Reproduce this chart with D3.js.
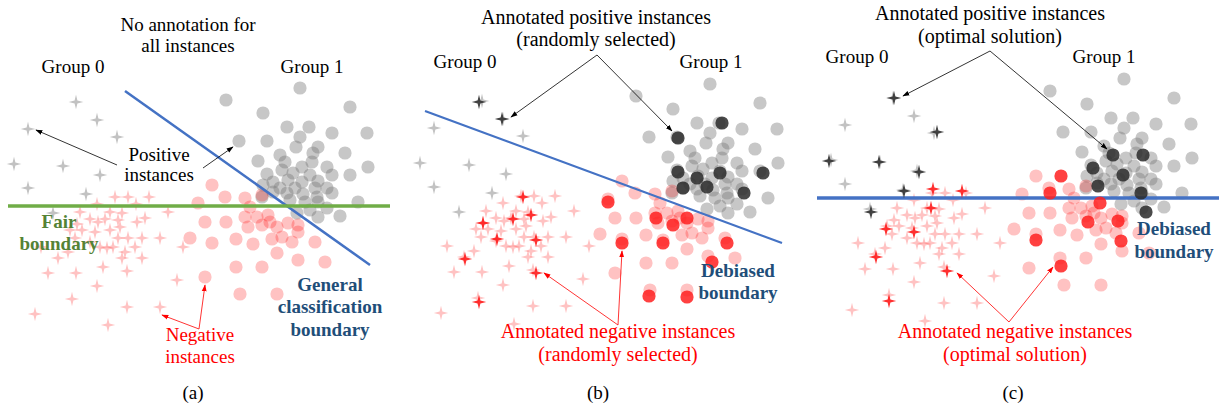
<!DOCTYPE html>
<html><head><meta charset="utf-8">
<script src="https://cdn.jsdelivr.net/npm/d3@7"></script>
<style>body{margin:0;background:#fff}svg{display:block}</style>
</head><body><svg id="c" width="1219" height="407"></svg>
<script>
// ---------- data (shared instance layout, in panel-(a) units) ----------
const group0Positive = [[76,102],[97,120],[117,137],[28,129],[14,164],[63,166],[100,175],[28,188],[86,194],[53,213]];
const group0Negative = [[115,197],[128,197],[149,197],[97,204],[136,204],[168,212],[80,212],[110,212],[122,213],[90,219],[98,222],[105,219],[118,220],[137,222],[145,218],[70,230],[82,230],[95,232],[110,230],[120,227],[118,238],[128,238],[142,238],[160,238],[75,238],[90,242],[100,247],[107,248],[113,247],[135,247],[183,247],[58,258],[68,252],[122,258],[142,258],[125,252],[103,267],[127,271],[48,273],[76,273],[177,280],[97,286],[72,299],[127,307],[160,307],[35,314],[108,325],[41,247],[77,224]];
const group1Positive = [[300,88],[226,100],[263,113],[350,107],[287,127],[309,127],[332,133],[367,133],[300,137],[239,141],[267,141],[318,147],[296,147],[345,153],[313,153],[280,155],[258,161],[285,162],[302,167],[312,162],[327,167],[368,167],[267,174],[282,170],[293,173],[310,175],[332,175],[350,175],[288,180],[273,182],[302,182],[318,181],[263,185],[280,188],[295,188],[315,188],[327,188],[332,193],[273,192],[287,193],[303,194],[317,197],[262,197],[358,202],[290,200],[305,202],[318,202],[327,208],[310,210],[340,216],[318,217],[297,213]];
const group1Negative = [[212,185],[225,197],[245,198],[262,195],[198,203],[250,207],[245,217],[257,217],[268,215],[205,222],[226,222],[248,227],[262,225],[270,222],[277,227],[288,223],[298,225],[190,238],[212,243],[236,239],[253,244],[272,239],[282,237],[292,242],[298,232],[315,242],[277,253],[298,260],[236,267],[262,267],[205,277],[240,294],[277,294],[325,262]];

// annotated instances, panel (b) randomly selected
const randPos0 = [[73,103],[96,120]];
const randNeg0 = [[117,198],[125,216],[77,224],[107,220],[91,240],[130,241],[59,260],[130,274],[73,303]];
const randPos1 = [[268,142],[312,127],[268,176],[287,182],[310,177],[353,177],[273,192],[297,191],[334,197]];
const randNeg1 = [[198,206],[246,222],[263,229],[277,222],[212,247],[253,247],[317,247],[302,266],[239,300],[277,301]];
// annotated instances, panel (c) optimal solution
const optPos0 = [[77,102],[120,136],[12,165],[62,166],[102,176],[87,195],[54,216]];
const optNeg0 = [[116,193],[145,195],[114,212],[69,233],[97,236],[59,261],[130,275],[72,305]];
const optPos1 = [[289,164],[319,164],[269,177],[299,184],[274,195],[317,202],[322,221]];
const optNeg1 = [[237,185],[226,202],[276,212],[264,231],[294,230],[212,249],[297,250],[237,275]];

// boundaries (page units)
const generalBoundary = [[125,91],[370,265]];
const fairBoundary = [[8,206],[390,206]];
const debiasedRandom = [[425,111],[782,243]];
const debiasedOptimal = [[817,198],[1219,198]];

const panelLabels = ["(a)","(b)","(c)"];

// ---------- drawing ----------
const FONT = "'Liberation Serif','Times New Roman',Tinos,'DejaVu Serif',serif";
const svg = d3.select("#c");
const defs = svg.append("defs");
function marker(id, color){
  defs.append("marker").attr("id",id).attr("viewBox","0 0 10 10").attr("refX",9).attr("refY",5)
    .attr("markerWidth",7).attr("markerHeight",7).attr("orient","auto-start-reverse")
    .attr("markerUnits","userSpaceOnUse")
    .append("path").attr("d","M0,1.5L10,5L0,8.5Z").attr("fill",color);
}
marker("ab","#000"); marker("ar","#ff0000");

const star = (s,w) => `M0,${-s}L${w},${-w}L${s},0L${w},${w}L0,${s}L${-w},${w}L${-s},0L${-w},${-w}Z`;
const crossPath = star(7.2,1.4);

const panels = [
  {cross:[0,0], circ:[0,0]},
  {cross:[406,-1], circ:[410,-4]},
  {cross:[817,-4], circ:[824,-9]}
];
function scales(off){
  return {x:d3.scaleLinear().domain([0,400]).range([off[0],off[0]+400]),
          y:d3.scaleLinear().domain([0,400]).range([off[1],off[1]+400])};
}
function crosses(g, data, sc, fill, op){
  g.selectAll(null).data(data).enter().append("path").attr("d",crossPath)
   .attr("transform",d=>`translate(${sc.x(d[0])},${sc.y(d[1])})`).attr("fill",fill).attr("fill-opacity",op);
}
function circles(g, data, sc, fill, op){
  g.selectAll(null).data(data).enter().append("circle")
   .attr("cx",d=>sc.x(d[0])).attr("cy",d=>sc.y(d[1])).attr("r",6.6).attr("fill",fill).attr("fill-opacity",op);
}
const lineGen = d3.line();
function boundary(pts, color, w){ svg.append("path").attr("d",lineGen(pts)).attr("stroke",color).attr("stroke-width",w).attr("fill","none"); }

const annotated = [null,
  {p0:randPos0,n0:randNeg0,p1:randPos1,n1:randNeg1},
  {p0:optPos0,n0:optNeg0,p1:optPos1,n1:optNeg1}];

panels.forEach((p,i)=>{
  const g = svg.append("g");
  const sx = scales(p.cross), sc = scales(p.circ);
  crosses(g, group0Positive, sx, "#9a9a9a", 0.6);
  crosses(g, group0Negative, sx, "#ff0000", 0.24);
  circles(g, group1Positive, sc, "#7a7a7a", 0.42);
  circles(g, group1Negative, sc, "#ff0000", 0.24);
});
boundary(generalBoundary,"#4472c4",2.5);
boundary(fairBoundary,"#70ad47",3.5);
boundary(debiasedRandom,"#4472c4",2.2);
boundary(debiasedOptimal,"#4472c4",3.5);
panels.forEach((p,i)=>{
  const a = annotated[i]; if(!a) return;
  const g = svg.append("g");
  const sx = scales(p.cross), sc = scales(p.circ);
  crosses(g, a.p0, sx, "#303030", 0.9);
  crosses(g, a.n0, sx, "#ff1a1a", 0.9);
  circles(g, a.p1, sc, "#2a2a2a", 0.85);
  circles(g, a.n1, sc, "#ff2020", 0.85);
});

function arrow(from, to, color, id){
  svg.append("line").attr("x1",from[0]).attr("y1",from[1]).attr("x2",to[0]).attr("y2",to[1])
    .attr("stroke",color).attr("stroke-width",0.8).attr("marker-end",`url(#${id})`);
}
function label(x, ys, lines, opt={}){
  const t = svg.append("text").attr("text-anchor","middle").attr("font-size",opt.size||19)
    .attr("font-family",FONT)
    .attr("fill",opt.color||"#000").attr("font-weight",opt.bold?"bold":"normal");
  lines.forEach((s,k)=>t.append("tspan").attr("x",x).attr("y",ys[k]).text(s));
}
// panel (a)
label(188,[31,52],["No annotation for","all instances"]);
label(73,[73],["Group 0"]); label(312,[73],["Group 1"]);
label(159,[161,181],["Positive","instances"]);
arrow([117,165],[36,130],"#000","ab"); arrow([203,168],[233,147],"#000","ab");
label(59,[228,250],["Fair","boundary"],{bold:true,color:"#548235"});
label(330,[291,313,336],["General","classification","boundary"],{bold:true,color:"#1f4e79"});
label(200,[341,363],["Negative","instances"],{color:"#ff0000"});
arrow([199,329],[162,315],"#ff0000","ar"); arrow([199,329],[205,285],"#ff0000","ar");
// panel (b)
label(596,[24,46],["Annotated positive instances","(randomly selected)"],{size:20});
label(465,[68],["Group 0"]); label(711,[68],["Group 1"]);
arrow([597,55],[511,117],"#000","ab"); arrow([597,55],[672,131],"#000","ab");
label(738,[277,299],["Debiased","boundary"],{bold:true,color:"#1f4e79"});
label(618,[338,361],["Annotated negative instances","(randomly selected)"],{color:"#ff0000",size:20});
arrow([618,325],[544,273],"#ff0000","ar"); arrow([618,325],[622,251],"#ff0000","ar");
// panel (c)
label(990,[20,43],["Annotated positive instances","(optimal solution)"],{size:20});
label(857,[63],["Group 0"]); label(1104,[63],["Group 1"]);
arrow([990,51],[903,96],"#000","ab"); arrow([990,51],[1107,149],"#000","ab");
label(1174,[235,258],["Debiased","boundary"],{bold:true,color:"#1f4e79"});
label(1015,[338,361],["Annotated negative instances","(optimal solution)"],{color:"#ff0000",size:20});
arrow([1009,322],[957,273],"#ff0000","ar"); arrow([1009,322],[1053,267],"#ff0000","ar");
// sub-captions
[193,598,1013].forEach((x,i)=>label(x,[399],[panelLabels[i]]));
</script></body></html>
